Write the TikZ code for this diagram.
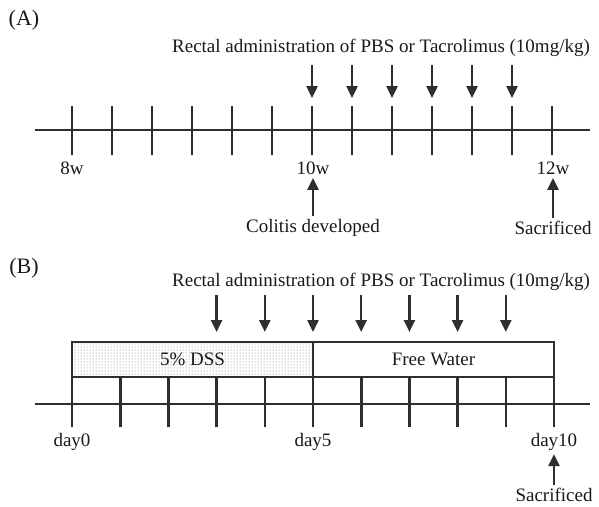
\documentclass[tikz,border=0pt]{standalone}
\usepackage{fontspec}
\setmainfont{Liberation Serif}
\usetikzlibrary{arrows.meta, patterns}
\tikzset{
  x=1pt, y=-1pt,
  every node/.style={font=\fontsize{19}{22}\selectfont, text=black!90},
  panel/.style={font=\fontsize{22}{26}\selectfont},
  axis/.style={line width=2.6pt, draw=black!82},
  tickline/.style={line width=2.6pt, draw=black!82},
  dose/.style={-{Triangle[width=11pt,length=12pt]}, line width=2.4pt, draw=black!82},
  period/.style={draw=black!82, line width=2.4pt, minimum width=241pt, minimum height=35pt, inner sep=0pt},
}

\begin{document}
\begin{tikzpicture}
  \useasboundingbox (0,0) rectangle (599,506);

  % (A)
  \node[panel] (pA) at (24,20) {(A)};
  \node (titleA) at (381,48) {Rectal administration of PBS or Tacrolimus (10mg/kg)};
  \coordinate (lA) at (35,130);
  \coordinate (rA) at (590,130);
  \draw[axis] (lA) -- (rA);
  \foreach \i in {0,...,12}
    \draw[tickline] (72+40*\i,106) -- (72+40*\i,155);
  \foreach \i in {6,...,11} {
    \coordinate (sa\i) at (72+40*\i,65);
    \coordinate (ea\i) at (72+40*\i,98);
    \draw[dose] (sa\i) -- (ea\i);
  }
  \node (w8) at (72,168) {8w};
  \node (w10) at (313,168) {10w};
  \node (w12) at (553,168) {12w};
  \node (colitis) at (313,228) {Colitis developed};
  \node (sacA) at (553,228) {Sacrificed};
  \draw[dose] (colitis) -- (w10);
  \draw[dose] (sacA) -- (w12);

  % (B)
  \node[panel] (pB) at (24,268) {(B)};
  \node (titleB) at (381,282) {Rectal administration of PBS or Tacrolimus (10mg/kg)};
  \node[period, pattern=dots, pattern color=black!55] (dss) at (192.5,359.5) {};
  \node at (dss) {5\% DSS};
  \node[period] (water) at (433.5,359.5) {Free Water};
  \coordinate (lB) at (35,404);
  \coordinate (rB) at (590,404);
  \draw[axis] (lB) -- (rB);
  \foreach \i in {0,...,10}
    \draw[tickline] (72+48.2*\i,377) -- (72+48.2*\i,427);
  \foreach \i in {3,...,9} {
    \coordinate (sb\i) at (72+48.2*\i,295);
    \coordinate (eb\i) at (72+48.2*\i,332);
    \draw[dose] (sb\i) -- (eb\i);
  }
  \node (d0) at (72,442) {day0};
  \node (d5) at (313,442) {day5};
  \node (d10) at (554,442) {day10};
  \node (sacB) at (554,495) {Sacrificed};
  \draw[dose] (sacB) -- (d10);
\end{tikzpicture}
\end{document}
